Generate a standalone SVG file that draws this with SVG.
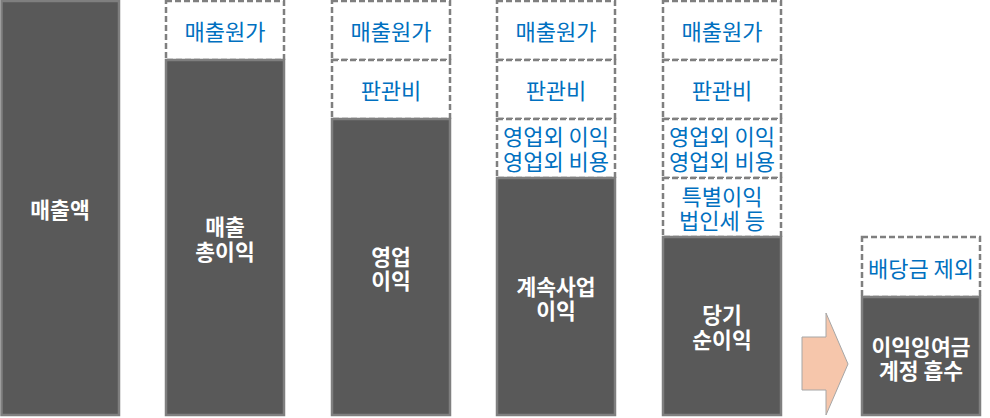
<svg xmlns="http://www.w3.org/2000/svg" width="990" height="418" viewBox="0 0 990 418">
<style>
.bar{fill:#595959;stroke:#7f7f7f;stroke-width:2.5}
.dash{fill:#ffffff;stroke:#7f7f7f;stroke-width:2.5;stroke-dasharray:6 3}
.wt{fill:#ffffff;font-family:"Noto Sans CJK KR","Noto Sans",sans-serif;font-size:21.5px;font-weight:700;text-anchor:middle;dominant-baseline:central}
.bt{fill:#0070c0;font-family:"Noto Sans CJK KR","Noto Sans",sans-serif;font-size:22px;font-weight:400;text-anchor:middle;dominant-baseline:central}
.arrow{fill:#f6c6ab;stroke:#a6a6a6;stroke-width:1}
</style>
<rect width="990" height="418" fill="#ffffff"/>
<g id="bar-sales">
<rect class="bar" x="1.5" y="1" width="117.5" height="414"/>
<text class="wt" x="60" y="208">매출액</text>
</g>
<g id="bar-gross-profit">
<rect class="dash" x="166" y="1" width="118" height="59"/>
<text class="bt" x="225" y="30">매출원가</text>
<rect class="bar" x="166" y="60" width="118" height="355"/>
<text class="wt" x="225" y="225">매출</text>
<text class="wt" x="225" y="250">총이익</text>
</g>
<g id="bar-operating-profit">
<rect class="dash" x="332" y="1" width="118" height="59"/>
<text class="bt" x="391" y="30">매출원가</text>
<rect class="dash" x="332" y="60" width="118" height="59"/>
<text class="bt" x="391" y="89">판관비</text>
<rect class="bar" x="332" y="119" width="118" height="296"/>
<text class="wt" x="391" y="255">영업</text>
<text class="wt" x="391" y="279">이익</text>
</g>
<g id="bar-continuing-profit">
<rect class="dash" x="497" y="1" width="118" height="59"/>
<text class="bt" x="556" y="30">매출원가</text>
<rect class="dash" x="497" y="60" width="118" height="59"/>
<text class="bt" x="556" y="89">판관비</text>
<rect class="dash" x="497" y="119" width="118" height="59"/>
<text class="bt" x="556" y="135">영업외 이익</text>
<text class="bt" x="556" y="160">영업외 비용</text>
<rect class="bar" x="497" y="178" width="118" height="237"/>
<text class="wt" x="556" y="285">계속사업</text>
<text class="wt" x="556" y="309">이익</text>
</g>
<g id="bar-net-income">
<rect class="dash" x="663" y="1" width="118" height="59"/>
<text class="bt" x="722" y="30">매출원가</text>
<rect class="dash" x="663" y="60" width="118" height="59"/>
<text class="bt" x="722" y="89">판관비</text>
<rect class="dash" x="663" y="119" width="118" height="59"/>
<text class="bt" x="722" y="135">영업외 이익</text>
<text class="bt" x="722" y="160">영업외 비용</text>
<rect class="dash" x="663" y="178" width="118" height="59"/>
<text class="bt" x="722" y="195">특별이익</text>
<text class="bt" x="722" y="219">법인세 등</text>
<rect class="bar" x="663" y="237" width="118" height="178"/>
<text class="wt" x="722" y="313">당기</text>
<text class="wt" x="722" y="338">순이익</text>
</g>
<g id="bar-retained-earnings">
<rect class="dash" x="862" y="237" width="118" height="60"/>
<text class="bt" x="921" y="267">배당금 제외</text>
<rect class="bar" x="862" y="297" width="118" height="118"/>
<text class="wt" x="921" y="345">이익잉여금</text>
<text class="wt" x="921" y="369">계정 흡수</text>
</g>
<g id="connectors">
<polygon class="arrow" points="802,337 826,337 826,313 848,364 826,415 826,390 802,390"/>
</g>
</svg>
